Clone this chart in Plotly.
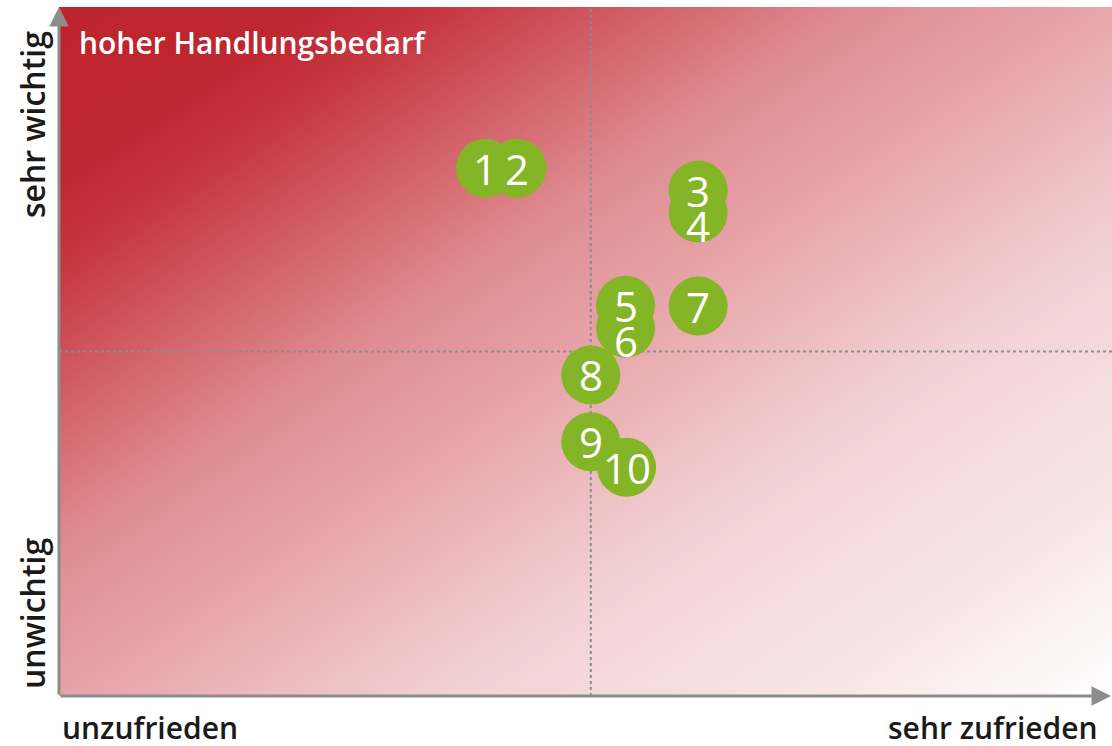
import numpy as np
import plotly.graph_objects as go

# ---- data ----
labels = ["1", "2", "3", "4", "5", "6", "7", "8", "9", "10"]
zufriedenheit = [40.5, 43.5, 60.7, 60.7, 53.8, 53.8, 60.7, 50.5, 50.5, 53.9]
wichtigkeit = [76.6, 76.6, 73.4, 70.1, 56.7, 53.4, 56.6, 46.6, 36.9, 33.2]
mid_x = 50.5
mid_y = 50
x_labels = ["unzufrieden", "sehr zufrieden"]
y_labels = ["unwichtig", "sehr wichtig"]
title_text = "hoher Handlungsbedarf"

# label nudges (style only, pixels)
label_yshift = {"4": -12, "6": -12}

# ---- layout geometry ----
W, H = 1112, 746
ml, mr, mt, mb = 59, 0, 7, 50
pw, ph = W - ml - mr, H - mt - mb

# ---- gradient background (style only) ----
gx = np.linspace(-1, 101, 60)
gy = np.linspace(-1, 101, 60)
GX, GY = np.meshgrid(gx, gy)
px = GX / 100 * pw
py = (100 - GY) / 100 * ph
t = (540 * px + 800 * py) / (540 * pw + 800 * ph)
t = np.clip(t, 0, 1)
colorscale = [
    [0.0, "rgb(190,36,46)"],
    [0.12, "rgb(190,38,48)"],
    [0.19, "rgb(199,56,66)"],
    [0.385, "rgb(222,140,145)"],
    [0.49, "rgb(230,162,167)"],
    [0.68, "rgb(242,210,212)"],
    [0.86, "rgb(248,230,231)"],
    [1.0, "rgb(255,255,255)"],
]

fig = go.Figure()
fig.add_trace(go.Heatmap(x=gx, y=gy, z=t, colorscale=colorscale, zmin=0, zmax=1,
                         zsmooth="best", showscale=False, hoverinfo="skip"))

grey = "#8c8c8c"
fig.add_trace(go.Scatter(x=[mid_x, mid_x], y=[0, 100], mode="lines",
                         line=dict(color=grey, width=2, dash="dot"), hoverinfo="skip"))
fig.add_trace(go.Scatter(x=[0, 100], y=[mid_y, mid_y], mode="lines",
                         line=dict(color=grey, width=2, dash="dot"), hoverinfo="skip"))

fig.add_trace(go.Scatter(
    x=zufriedenheit, y=wichtigkeit, mode="markers",
    marker=dict(size=59, color="#84b526", line=dict(width=0)),
    cliponaxis=False, hoverinfo="skip"))

for lab, xv, yv in zip(labels, zufriedenheit, wichtigkeit):
    fig.add_annotation(x=xv, y=yv, text=lab, showarrow=False,
                       xanchor="center", yanchor="middle",
                       yshift=label_yshift.get(lab, 0),
                       font=dict(family="Open Sans", size=42, color="white"))

fig.update_layout(
    width=W, height=H, margin=dict(l=ml, r=mr, t=mt, b=mb),
    paper_bgcolor="white", plot_bgcolor="white", showlegend=False,
    xaxis=dict(range=[0, 100], visible=False, fixedrange=True),
    yaxis=dict(range=[0, 100], visible=False, fixedrange=True),
)

# axis arrows
fig.add_annotation(x=0, y=1.0, xref="paper", yref="paper", ax=0, ay=ph, axref="pixel", ayref="pixel",
                   text="", showarrow=True, arrowhead=2, arrowsize=1.3, arrowwidth=3, arrowcolor=grey)
fig.add_annotation(x=1.0, y=0, xref="paper", yref="paper", ax=-pw, ay=0,
                   text="", showarrow=True, arrowhead=2, arrowsize=1.3, arrowwidth=3, arrowcolor=grey)

xlab_font = dict(family="Open Sans", size=30, color="#1a1a1a", weight=600)
ylab_font = dict(family="Open Sans", size=32, color="#1a1a1a", weight=600)
fig.add_annotation(x=1 / pw, y=-31 / ph, xref="paper", yref="paper", text=x_labels[0],
                   showarrow=False, xanchor="left", yanchor="middle", height=32, font=xlab_font)
fig.add_annotation(x=1041 / pw, y=-31 / ph, xref="paper", yref="paper", text=x_labels[1],
                   showarrow=False, xanchor="right", yanchor="middle", height=32, font=xlab_font)
fig.add_annotation(x=-27 / pw, y=571 / ph, xref="paper", yref="paper", text=y_labels[1],
                   showarrow=False, textangle=-90, xanchor="center", yanchor="middle", font=ylab_font)
fig.add_annotation(x=-27 / pw, y=82 / ph, xref="paper", yref="paper", text=y_labels[0],
                   showarrow=False, textangle=-90, xanchor="center", yanchor="middle", font=ylab_font)
fig.add_annotation(x=18 / pw, y=654 / ph, xref="paper", yref="paper", text=title_text,
                   showarrow=False, xanchor="left", yanchor="middle",
                   font=dict(family="Open Sans", size=30, color="white", weight=600))

fig.write_html("out.html", config={"displayModeBar": False},
               post_script="document.body.style.margin='0';document.body.style.overflow='hidden';")
